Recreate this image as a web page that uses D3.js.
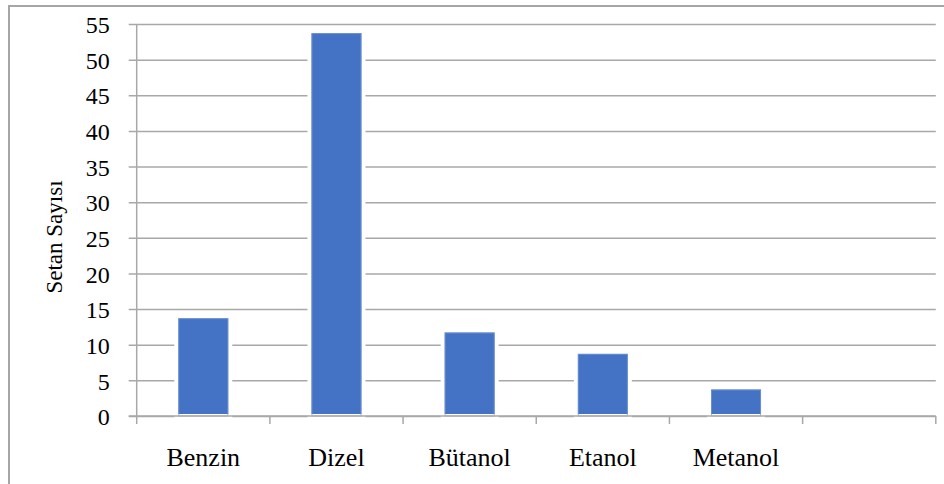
<!DOCTYPE html>
<html>
<head>
<meta charset="utf-8">
<script src="https://cdn.jsdelivr.net/npm/d3@7"></script>
<style>
  html, body { margin: 0; padding: 0; background: #fff; }
  svg { display: block; }
  svg text { font-family: "Liberation Serif", "Times New Roman", serif !important; fill: #000; }
</style>
</head>
<body>
<svg id="chart" width="944" height="484"></svg>
<script>
// Cetane number of each fuel
const categories = ["Benzin", "Dizel", "Bütanol", "Etanol", "Metanol", ""];
const values = [14, 54, 12, 9, 4];
const yTicks = [0, 5, 10, 15, 20, 25, 30, 35, 40, 45, 50, 55];
const yTitle = "Setan Sayısı";

const serif = "Liberation Serif, Times New Roman, serif";
const svg = d3.select("#chart");
const W = 944, H = 484;
const plot = { left: 136.7, right: 935.8, top: 24, bottom: 416 };

// outer frame
svg.append("rect")
  .attr("x", 9).attr("y", 6)
  .attr("width", W).attr("height", H)
  .attr("fill", "#fff")
  .attr("stroke", "#a6a6a6").attr("stroke-width", 2);

const x = d3.scaleBand()
  .domain(categories)
  .range([plot.left, plot.right])
  .paddingInner(0).paddingOuter(0);

const y = d3.scaleLinear()
  .domain([0, 55])
  .range([plot.bottom, plot.top]);

const gridColor = "#a8a8a8";

// horizontal gridlines + left ticks
const yAxis = d3.axisLeft(y)
  .tickValues(yTicks)
  .tickSize(plot.right - plot.left + 8)
  .tickSizeOuter(0)
  .tickPadding(19)
  .tickFormat(d3.format("d"));

const gy = svg.append("g")
  .attr("transform", `translate(${plot.right},0)`)
  .call(yAxis)
  .attr("font-family", serif)
  .attr("font-size", 24);
gy.select(".domain").remove();
gy.selectAll(".tick line").attr("stroke", gridColor).attr("stroke-width", 1.5);
gy.selectAll(".tick text")
  .attr("font-family", serif)
  .attr("font-size", 24)
  .attr("dy", "0.36em");

// vertical axis line
svg.append("line")
  .attr("x1", plot.left).attr("x2", plot.left)
  .attr("y1", plot.top).attr("y2", plot.bottom)
  .attr("stroke", gridColor).attr("stroke-width", 1.5);

// bars, with a white halo that interrupts the gridlines
const barW = 54;
const bars = svg.append("g");
bars.selectAll("rect.bar")
  .data(values)
  .join("rect")
  .attr("class", "bar")
  .attr("x", (d, i) => x(categories[i]) + x.bandwidth() / 2 - barW / 2)
  .attr("y", d => y(d))
  .attr("width", barW)
  .attr("height", d => y(0) - y(d))
  .attr("fill", "#4472c4")
  .attr("stroke", "#fff")
  .attr("stroke-width", 4);
// soft light edge inside each bar
bars.selectAll("rect.edge")
  .data(values)
  .join("rect")
  .attr("class", "edge")
  .attr("x", (d, i) => x(categories[i]) + x.bandwidth() / 2 - barW / 2 + 2.5)
  .attr("y", d => y(d) + 2.5)
  .attr("width", barW - 5)
  .attr("height", d => y(0) - y(d) - 2.5)
  .attr("fill", "none")
  .attr("stroke", "#7b9ad6")
  .attr("stroke-width", 1)
  .attr("stroke-opacity", 0.7);

// category axis
const xAxis = d3.axisBottom(x).tickSize(0).tickPadding(0).tickFormat(d => d);
const gx = svg.append("g")
  .attr("transform", `translate(0,${plot.bottom})`)
  .call(xAxis)
  .attr("font-family", serif)
  .attr("font-size", 26);
gx.select(".domain").remove();
gx.selectAll(".tick text")
  .attr("font-family", serif)
  .attr("font-size", 26)
  .attr("y", 50)
  .attr("dy", 0);

// baseline and category boundary ticks
svg.append("line")
  .attr("x1", plot.left - 8).attr("x2", plot.right)
  .attr("y1", plot.bottom).attr("y2", plot.bottom)
  .attr("stroke", gridColor).attr("stroke-width", 1.5);
const bounds = categories.map(c => x(c)).concat([plot.right]);
svg.append("g").selectAll("line")
  .data(bounds)
  .join("line")
  .attr("x1", d => d).attr("x2", d => d)
  .attr("y1", plot.bottom).attr("y2", plot.bottom + 8)
  .attr("stroke", gridColor).attr("stroke-width", 1.5);

// y axis title
svg.append("text")
  .attr("transform", "translate(62,237) rotate(-90)")
  .attr("text-anchor", "middle")
  .attr("font-family", serif)
  .attr("font-size", 23)
  .text(yTitle);
</script>
</body>
</html>
